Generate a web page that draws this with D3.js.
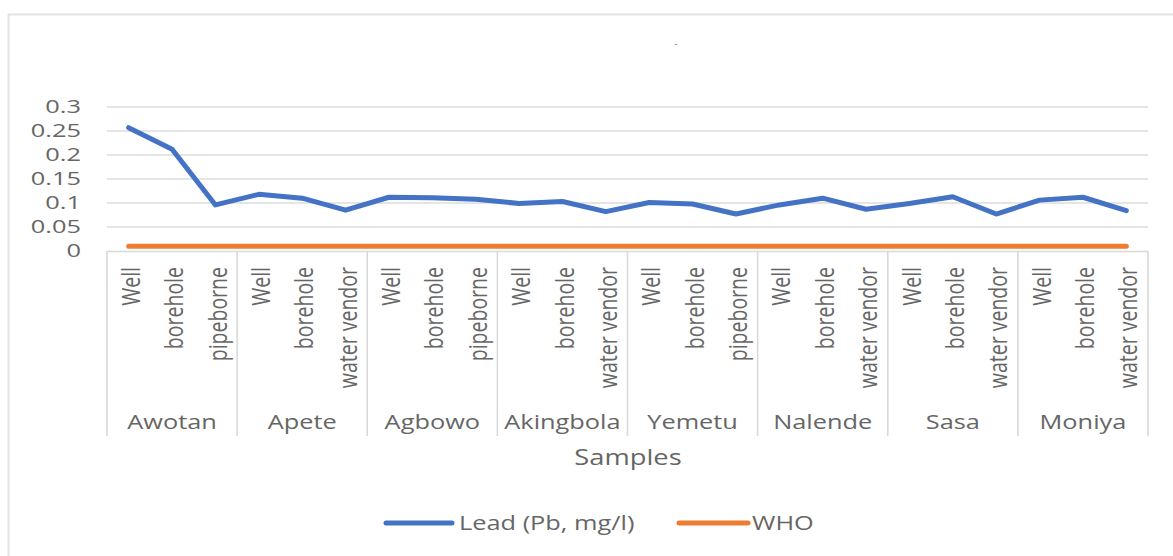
<!DOCTYPE html>
<html>
<head>
<meta charset="utf-8">
<script src="https://cdn.jsdelivr.net/npm/d3@7"></script>
<style>
  html, body { margin: 0; padding: 0; background: #fff; }
  svg { display: block; }
  text { font-family: "Open Sans", "Noto Sans", sans-serif; fill: #666; }
</style>
</head>
<body>
<svg id="chart" width="1173" height="556"></svg>
<script>
// ---- data ----
const groups = ["Awotan", "Apete", "Agbowo", "Akingbola", "Yemetu", "Nalende", "Sasa", "Moniya"];
const sources = [
  ["Well", "borehole", "pipeborne"],
  ["Well", "borehole", "water vendor"],
  ["Well", "borehole", "pipeborne"],
  ["Well", "borehole", "water vendor"],
  ["Well", "borehole", "pipeborne"],
  ["Well", "borehole", "water vendor"],
  ["Well", "borehole", "water vendor"],
  ["Well", "borehole", "water vendor"]
];
const lead = [0.257, 0.212, 0.096, 0.118, 0.110, 0.085, 0.112, 0.111, 0.108, 0.099, 0.103, 0.082,
              0.101, 0.098, 0.077, 0.096, 0.110, 0.087, 0.099, 0.113, 0.077, 0.106, 0.112, 0.084];
const who = [0.01, 0.01, 0.01, 0.01, 0.01, 0.01, 0.01, 0.01, 0.01, 0.01, 0.01, 0.01,
             0.01, 0.01, 0.01, 0.01, 0.01, 0.01, 0.01, 0.01, 0.01, 0.01, 0.01, 0.01];
const yTicks = [0, 0.05, 0.1, 0.15, 0.2, 0.25, 0.3];
const seriesNames = ["Lead (Pb, mg/l)", "WHO"];
const seriesColors = ["#4472C4", "#ED7D31"];
const axisTitle = "Samples";

// ---- layout ----
const svg = d3.select("#chart");
const SX = 1.3; // horizontal text stretch of the reference
const fs = 19.5;
const plotL = 107, plotR = 1148, plotT = 107, plotB = 251;

const cats = [];
groups.forEach((g, gi) => sources[gi].forEach((s, si) => cats.push({ g, gi, s, i: cats.length })));

const x = d3.scaleBand().domain(cats.map(c => c.i)).range([plotL, plotR]).padding(0);
const xc = i => x(i) + x.bandwidth() / 2;
const y = d3.scaleLinear().domain([0, 0.3]).range([plotB, plotT]);

// chart border (top + left)
svg.append("path").attr("d", "M8.5,556 L8.5,14.5 L1173,14.5")
  .attr("fill", "none").attr("stroke", "#e3e3e3").attr("stroke-width", 2);

// small title mark
svg.append("text").attr("x", 676).attr("y", 47).attr("text-anchor", "middle")
  .style("font-size", "11px").style("fill", "#888").text("-");

// gridlines
svg.append("g").selectAll("line").data(yTicks.filter(t => t > 0)).join("line")
  .attr("x1", plotL).attr("x2", plotR).attr("y1", d => y(d)).attr("y2", d => y(d))
  .attr("stroke", "#dcdcdc").attr("stroke-width", 1.6);

// y tick labels
svg.append("g").selectAll("text").data(yTicks).join("text")
  .attr("transform", d => `translate(81,${y(d)}) scale(1.45,1)`)
  .attr("text-anchor", "end").attr("dy", "0.36em")
  .style("font-size", "17.5px")
  .text(d => d3.format("")(d));

// x axis line
svg.append("line").attr("x1", plotL).attr("x2", plotR).attr("y1", plotB + 0.5).attr("y2", plotB + 0.5)
  .attr("stroke", "#d9d9d9").attr("stroke-width", 1.5);

// group dividers
const bounds = [0];
let acc = 0;
sources.forEach(s => { acc += s.length; bounds.push(acc); });
svg.append("g").selectAll("line").data(bounds).join("line")
  .attr("x1", d => d < cats.length ? x(d) : plotR).attr("x2", d => d < cats.length ? x(d) : plotR)
  .attr("y1", plotB).attr("y2", 436)
  .attr("stroke", "#d9d9d9").attr("stroke-width", 1.6);

// sub-category labels (rotated)
svg.append("g").selectAll("text").data(cats).join("text")
  .attr("transform", d => `translate(${xc(d.i) + 2},267) scale(${SX},1) rotate(-90)`)
  .attr("text-anchor", "end").attr("dy", "0.36em")
  .style("font-size", fs + "px")
  .text(d => d.s);

// group labels
svg.append("g").selectAll("text").data(groups).join("text")
  .attr("transform", (d, gi) => {
    const a = x(bounds[gi]);
    const b = bounds[gi + 1] < cats.length ? x(bounds[gi + 1]) : plotR;
    return `translate(${(a + b) / 2},429) scale(${SX},1)`;
  })
  .attr("text-anchor", "middle")
  .style("font-size", fs + "px")
  .text(d => d);

// axis title
svg.append("text").attr("transform", `translate(628,465) scale(${SX},1)`)
  .attr("text-anchor", "middle").style("font-size", "21px").text(axisTitle);

// lines
const line = d3.line().x((d, i) => xc(i)).y(d => y(d));
[lead, who].forEach((vals, k) => {
  svg.append("path").datum(vals).attr("d", line)
    .attr("fill", "none").attr("stroke", seriesColors[k]).attr("stroke-width", 5)
    .attr("stroke-linejoin", "round").attr("stroke-linecap", "round");
});

// legend
const legendItems = [
  { name: seriesNames[0], color: seriesColors[0], x1: 386, x2: 452, tx: 459 },
  { name: seriesNames[1], color: seriesColors[1], x1: 679, x2: 748, tx: 752 }
];
const lg = svg.append("g");
legendItems.forEach(it => {
  lg.append("line").attr("x1", it.x1).attr("x2", it.x2).attr("y1", 523).attr("y2", 523)
    .attr("stroke", it.color).attr("stroke-width", 5).attr("stroke-linecap", "round");
  lg.append("text").attr("transform", `translate(${it.tx},523) scale(${SX},1)`)
    .attr("dy", "0.36em").style("font-size", fs + "px").text(it.name);
});
</script>
</body>
</html>
